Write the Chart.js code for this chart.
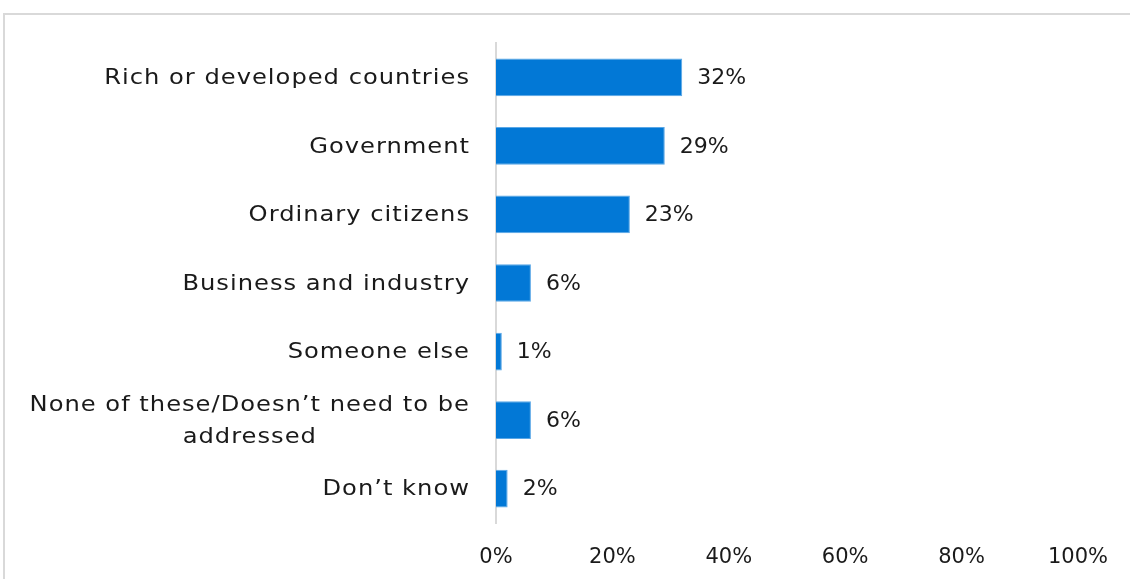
<!DOCTYPE html>
<html>
<head>
<meta charset="utf-8">
<script src="https://cdn.jsdelivr.net/npm/chart.js@4"></script>
<style>
  html, body { margin: 0; padding: 0; background: #fff; }
  #wrap { position: relative; width: 1130px; height: 579px; overflow: hidden; }
  #frame { position: absolute; left: 3px; top: 13px; width: 1200px; height: 700px;
           border-top: 2px solid #d9d9d9; border-left: 2px solid #d9d9d9; }
  canvas { position: absolute; left: 0; top: 0; }
</style>
</head>
<body>
<div id="wrap">
  <div id="frame"></div>
  <canvas id="chart" width="1130" height="579"></canvas>
</div>
<script>
const categories = [
    ['Rich or developed countries'],
    ['Government'],
    ['Ordinary citizens'],
    ['Business and industry'],
    ['Someone else'],
    ['None of these/Doesn\u2019t need to be', 'addressed'],
    ['Don\u2019t know']
];
const values = [32, 29, 23, 6, 1, 6, 2];
const xTicks = [0, 20, 40, 60, 80, 100];

const FONT = 'DejaVu Sans';
const TEXT = '#1a1a1a';
const STRETCH = 1.1; // the original face is a wide geometric sans

// draws the category labels, centred line by line like the original
const categoryLabels = {
    id: 'categoryLabels',
    afterDraw(chart) {
        const ctx = chart.ctx;
        const yScale = chart.scales.y;
        const right = chart.chartArea.left - 26;
        ctx.save();
        ctx.font = '22px "' + FONT + '"';
        ctx.letterSpacing = '0.9px';
        ctx.fillStyle = TEXT;
        ctx.textAlign = 'center';
        ctx.textBaseline = 'middle';
        ctx.scale(STRETCH, 1);
        categories.forEach((lines, i) => {
            const y = yScale.getPixelForTick(i) + 1;
            const widest = Math.max(...lines.map(l => ctx.measureText(l).width)) * STRETCH;
            const lh = 32;
            const top = y - (lines.length - 1) * lh / 2;
            lines.forEach((l, j) => ctx.fillText(l, (right - widest / 2) / STRETCH, top + j * lh));
        });
        ctx.restore();
    }
};

// value labels at the end of each bar
const valueLabels = {
    id: 'valueLabels',
    afterDatasetsDraw(chart) {
        const ctx = chart.ctx;
        const meta = chart.getDatasetMeta(0);
        ctx.save();
        ctx.font = '22px "' + FONT + '"';
        ctx.fillStyle = TEXT;
        ctx.textAlign = 'left';
        ctx.textBaseline = 'middle';
        meta.data.forEach((bar, i) => {
            ctx.fillText(values[i] + '%', bar.x + 15, bar.y + 1);
        });
        ctx.restore();
    }
};

const ctx = document.getElementById('chart').getContext('2d');
new Chart(ctx, {
    type: 'bar',
    data: {
        labels: categories.map(c => c.join(' ')),
        datasets: [{
            data: values,
            backgroundColor: '#0278d6',
            borderColor: '#5aa7e6',
            borderWidth: 1,
            barPercentage: 0.55,
            categoryPercentage: 1
        }]
    },
    options: {
        indexAxis: 'y',
        responsive: false,
        animation: false,
        layout: { padding: { left: 496, right: 45, top: 43, bottom: 0 } },
        plugins: {
            legend: { display: false },
            tooltip: { enabled: false }
        },
        scales: {
            x: {
                min: 0,
                max: 100,
                afterBuildTicks: scale => { scale.ticks = xTicks.map(v => ({ value: v })); },
                afterFit: scale => { scale.height = 56; },
                grid: { display: false, drawTicks: false },
                border: { display: false },
                ticks: {
                    padding: 22,
                    color: TEXT,
                    font: { family: FONT, size: 21 },
                    callback: v => v + '%'
                }
            },
            y: {
                afterFit: scale => { scale.width = 0; },
                grid: { display: false, drawTicks: false },
                border: { display: true, color: '#d9d9d9', width: 2 },
                ticks: { display: false }
            }
        }
    },
    plugins: [categoryLabels, valueLabels]
});
</script>
</body>
</html>
